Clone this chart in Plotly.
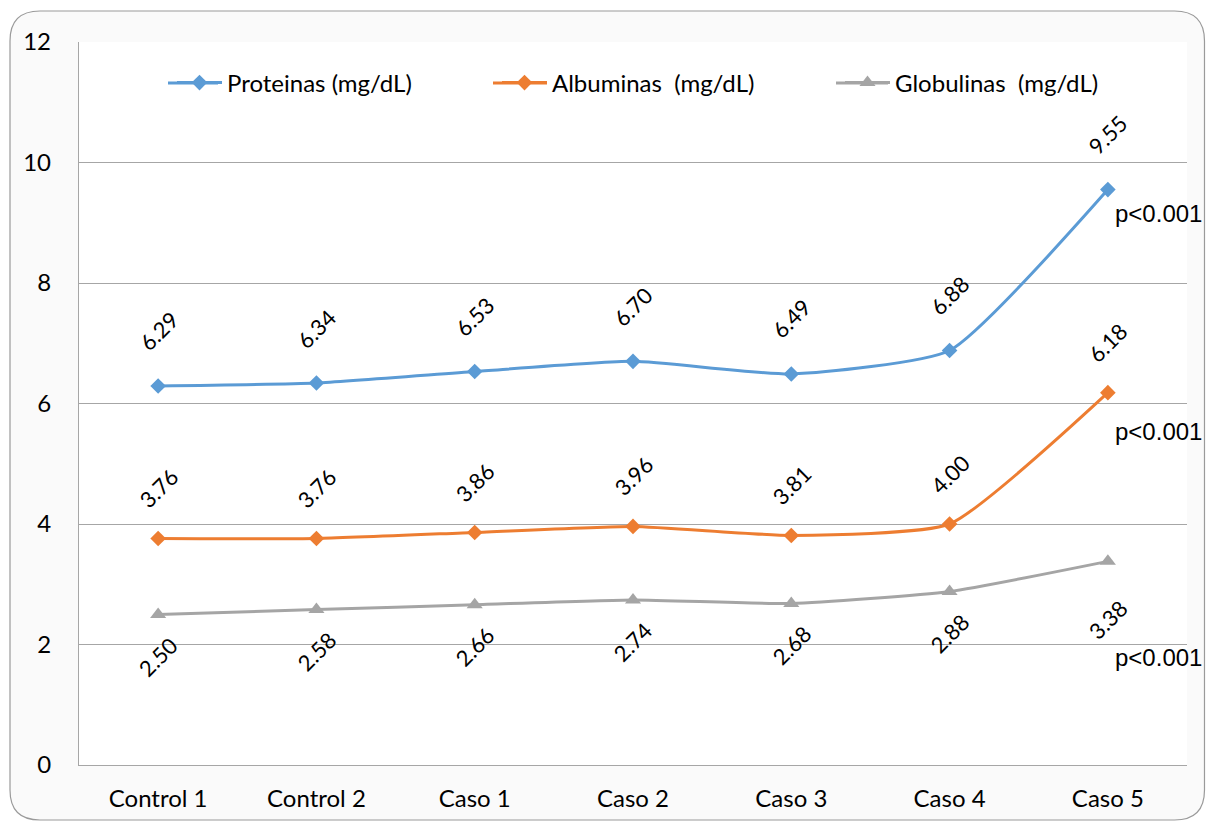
import plotly.graph_objects as go

categories = ["Control 1", "Control 2", "Caso 1", "Caso 2", "Caso 3", "Caso 4", "Caso 5"]
proteinas = [6.29, 6.34, 6.53, 6.70, 6.49, 6.88, 9.55]
albuminas = [3.76, 3.76, 3.86, 3.96, 3.81, 4.00, 6.18]
globulinas = [2.50, 2.58, 2.66, 2.74, 2.68, 2.88, 3.38]
series_names = ["Proteinas (mg/dL)", "Albuminas\u00a0 (mg/dL)", "Globulinas\u00a0 (mg/dL)"]
p_text = "p<0.001"
p_label_values = [9.15, 5.53, 1.78]
y_ticks = [0, 2, 4, 6, 8, 10, 12]

# page offset (default body margin) compensation
OFF = 8
W, H = 1214 - 2 * OFF, 829 - 2 * OFF
# plot area in page pixels
PX0, PX1, PY0, PY1 = 79, 1187, 42, 765
ML, MT = PX0 - OFF, PY0 - OFF
MR, MB = W - (PX1 - OFF), H - (PY1 - OFF)
PW, PH = PX1 - PX0, PY1 - PY0

colors = ["#5B9BD5", "#ED7D31", "#A5A5A5"]
symbols = ["diamond", "diamond", "triangle-up"]
msizes = [12, 12, 14]
label_shift = [55, 50, -42]
FONT = "Lato"
FS = 24


def px2paper(x, y):
    return (x - PX0) / PW, (PY1 - y) / PH


fig = go.Figure()
data = [proteinas, albuminas, globulinas]
legends = ["legend", "legend2", "legend3"]
for i, (name, vals) in enumerate(zip(series_names, data)):
    fig.add_trace(go.Scatter(
        x=categories, y=vals, name=name, mode="lines+markers",
        line=dict(color=colors[i], width=3, shape="spline", smoothing=0.5),
        marker=dict(symbol=symbols[i], size=msizes[i], color=colors[i]),
        legend=legends[i], cliponaxis=False,
    ))

annotations = []
for i, vals in enumerate(data):
    for j, (c, v) in enumerate(zip(categories, vals)):
        shift = label_shift[i]
        if i == 2 and j == len(vals) - 1:
            shift = -58
        annotations.append(dict(
            x=c, y=v, xref="x", yref="y", text=f"{v:.2f}", showarrow=False,
            textangle=-45, yshift=shift, font=dict(family=FONT, size=FS - 2, color="#000"),
        ))
    annotations.append(dict(
        x=categories[-1], y=p_label_values[i], xref="x", yref="y", text=p_text,
        showarrow=False, xshift=51, font=dict(family="Liberation Sans", size=24, color="#000"),
    ))


def rounded_rect(x0, y0, x1, y1, r):
    def P(x, y):
        a, b = px2paper(x, y)
        return f"{a:.5f},{b:.5f}"
    return (f"M {P(x0 + r, y0)} L {P(x1 - r, y0)} Q {P(x1, y0)} {P(x1, y0 + r)} "
            f"L {P(x1, y1 - r)} Q {P(x1, y1)} {P(x1 - r, y1)} "
            f"L {P(x0 + r, y1)} Q {P(x0, y1)} {P(x0, y1 - r)} "
            f"L {P(x0, y0 + r)} Q {P(x0, y0)} {P(x0 + r, y0)} Z")


shapes = [
    dict(type="path", xref="paper", yref="paper",
         path=rounded_rect(10, 11, OFF + W - 1.5, OFF + H - 1, 30),
         fillcolor="#fafafa", line=dict(color="#9a9a9a", width=1.2), layer="below"),
    dict(type="rect", xref="paper", yref="paper", x0=0, x1=1, y0=0, y1=1,
         fillcolor="#ffffff", line=dict(width=0), layer="below"),
]

# legend layout: (line start px, line end px, legend x px)
leg_y_px = 83
leg_pos = [(168, 218, 172), (493, 547, 497), (836, 888, 840)]
for i, (xa, xb, _) in enumerate(leg_pos):
    a0, b0 = px2paper(xa, leg_y_px)
    a1, _b = px2paper(xb, leg_y_px)
    shapes.append(dict(type="line", xref="paper", yref="paper", x0=a0, x1=a1, y0=b0, y1=b0,
                       line=dict(color=colors[i], width=3), layer="above"))

leg_common = dict(orientation="h", yanchor="middle", xanchor="left", bgcolor="rgba(0,0,0,0)",
                  font=dict(family=FONT, size=FS, color="#000"), itemwidth=45)
ly = (PY1 - leg_y_px) / PH
fig.update_layout(
    width=W, height=H,
    margin=dict(l=ML, r=MR, t=MT, b=MB, pad=0, autoexpand=False),
    paper_bgcolor="#ffffff", plot_bgcolor="#ffffff",
    font=dict(family=FONT, size=FS, color="#000"),
    showlegend=True,
    legend=dict(x=(leg_pos[0][2] - PX0) / PW, y=ly, **leg_common),
    legend2=dict(x=(leg_pos[1][2] - PX0) / PW, y=ly, **leg_common),
    legend3=dict(x=(leg_pos[2][2] - PX0) / PW, y=ly, **leg_common),
    xaxis=dict(type="category", range=[-0.5, 6.5], showline=True, linecolor="#a6a6a6", linewidth=1.3,
               showgrid=False, ticks="", ticklabelstandoff=12, automargin=False,
               tickfont=dict(family=FONT, size=FS, color="#000")),
    yaxis=dict(range=[0, 12], tickvals=y_ticks, showline=True, linecolor="#a6a6a6", linewidth=1.3,
               showgrid=True, gridcolor="#a6a6a6", gridwidth=1.3, zeroline=False, ticks="",
               ticklabelstandoff=22, automargin=False,
               tickfont=dict(family=FONT, size=FS, color="#000")),
    annotations=annotations, shapes=shapes,
)

fig.write_html("out.html")
